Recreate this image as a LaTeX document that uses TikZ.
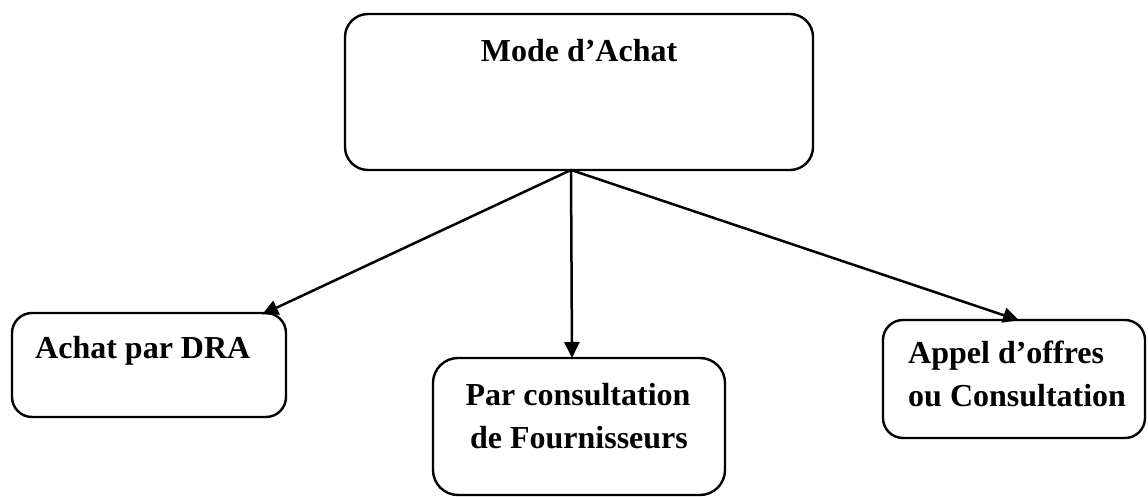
\documentclass[tikz,border=0pt]{standalone}
\usepackage{fontspec}
\setmainfont{Liberation Serif}
\usetikzlibrary{arrows.meta}

\begin{document}
\begin{tikzpicture}[x=1pt,y=-1pt,
  box/.style={draw=black, line width=2.4pt, fill=white},
  label/.style={inner sep=0pt, font=\fontsize{32}{43}\selectfont\bfseries},
  link/.style={line width=2.5pt, -{Triangle[length=16pt,width=15pt]}, shorten >=-1pt}
]
\useasboundingbox (0,0) rectangle (1148,497);

% boxes
\draw[box, rounded corners=23pt] (345,14) rectangle (813,170);
\node[inner sep=0pt, minimum width=468pt, minimum height=156pt] (mode) at (579,92) {};
\draw[box, rounded corners=20pt] (12,313) rectangle (286,417);
\node[inner sep=0pt, minimum width=274pt, minimum height=104pt] (dra) at (149,365) {};
\draw[box, rounded corners=25pt] (433,358) rectangle (725,495);
\node[inner sep=0pt, minimum width=292pt, minimum height=137pt] (consult) at (579,426.5) {};
\draw[box, rounded corners=20pt] (883,320) rectangle (1145,438);
\node[inner sep=0pt, minimum width=262pt, minimum height=118pt] (appel) at (1014,379) {};

% texts
\node[label, anchor=base] (modeT) at (579,62) {Mode d’Achat};
\node[label, anchor=base west] (draT) at (35,358) {Achat par DRA};
\node[label, anchor=base] (consultA) at (578,405) {Par consultation};
\node[label, anchor=base] (consultB) at (579,448) {de Fournisseurs};
\node[label, anchor=base west] (appelA) at (908,363) {Appel d’offres};
\node[label, anchor=base west] (appelB) at (908,406) {ou Consultation};

% connector end points
\coordinate (src) at (571,170);
\coordinate (tipL) at (263,314);
\coordinate (tipM) at (572,357);
\coordinate (tipR) at (1018,320);

\draw[link] (src) -- (tipL);
\draw[link] (src) -- (tipM);
\draw[link] (src) -- (tipR);
\end{tikzpicture}
\end{document}
